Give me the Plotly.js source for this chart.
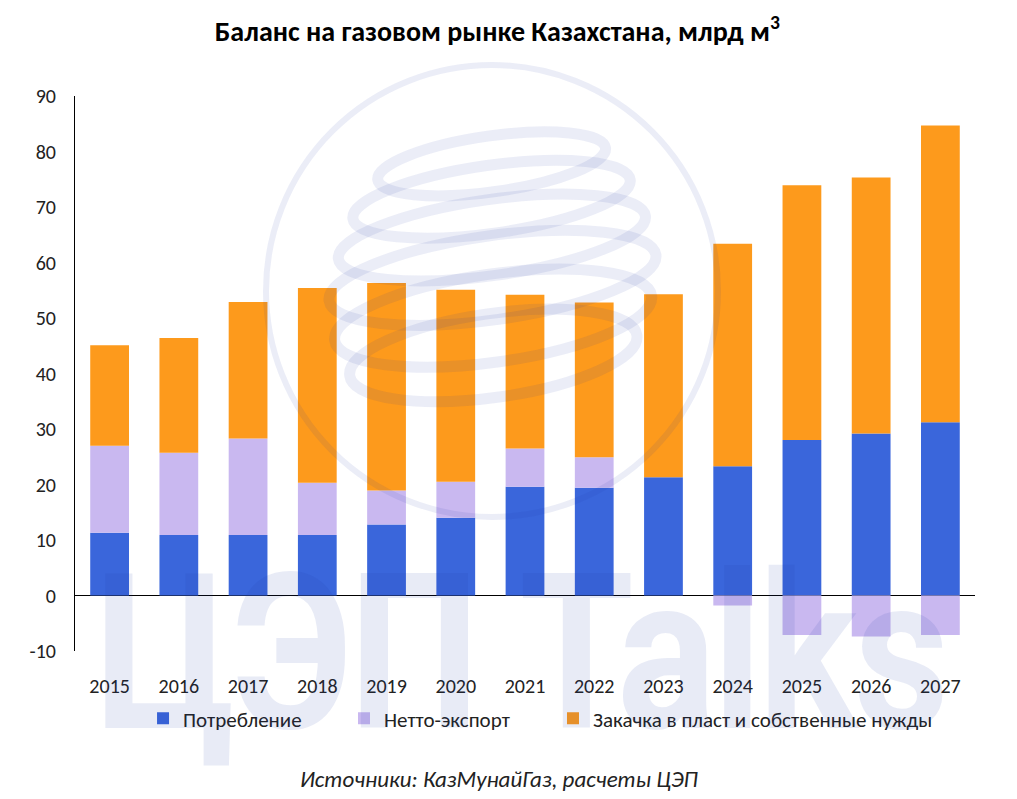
<!DOCTYPE html>
<html>
<head>
<meta charset="utf-8">
<script src="https://cdn.plot.ly/plotly-3.0.1.min.js"></script>
<style>
  html, body { margin: 0; padding: 0; background: #fff; }
  #wrap { position: relative; width: 1017px; height: 799px; overflow: hidden; }
  #chart { width: 1017px; height: 799px; }
  #wm { position: absolute; left: 95px; top: 545px; font-family: Roboto, "DejaVu Sans", sans-serif;
        font-weight: 700; font-size: 218px; line-height: 1; white-space: nowrap;
        color: rgba(30, 60, 170, 0.10); transform-origin: 0 0; transform: scaleX(0.85);
        pointer-events: none; letter-spacing: -4px; }
  #logo { position: absolute; left: 0; top: 0; pointer-events: none; }
</style>
</head>
<body>
<div id="wrap">
  <div id="chart"></div>
  <svg id="logo" width="1017" height="799" viewBox="0 0 1017 799">
    <g fill="none" stroke="rgba(30,60,170,0.09)">
      <circle cx="492" cy="291" r="226" stroke-width="6"/>
      <g stroke-width="11" transform="rotate(-8 490 260)">
        <ellipse cx="505" cy="165" rx="115" ry="28"/>
        <ellipse cx="500" cy="200" rx="140" ry="34"/>
        <ellipse cx="495" cy="238" rx="155" ry="38"/>
        <ellipse cx="490" cy="278" rx="165" ry="42"/>
        <ellipse cx="485" cy="318" rx="160" ry="44"/>
        <ellipse cx="480" cy="355" rx="145" ry="42"/>
      </g>
    </g>
  </svg>
  <div id="wm">ЦЭП Talks</div>
</div>
<script>
const years = ['2015','2016','2017','2018','2019','2020','2021','2022','2023','2024','2025','2026','2027'];
const consumption = [11.3, 10.9, 10.9, 10.9, 12.8, 14.0, 19.6, 19.4, 21.3, 23.3, 28.0, 29.2, 31.2];
const netExport   = [15.7, 14.8, 17.4, 9.4, 6.1, 6.5, 6.9, 5.5, 0, -1.8, -7.1, -7.4, -7.1];
const injection   = [18.1, 20.7, 24.6, 35.1, 37.4, 34.6, 27.7, 27.9, 33.0, 40.1, 45.9, 46.1, 53.5];
const yTicks = [-10, 0, 10, 20, 30, 40, 50, 60, 70, 80, 90];

const seriesNames = ['Потребление', 'Нетто-экспорт', 'Закачка в пласт и собственные нужды'];
const colors = ['#3A66DB', '#C9B8F0', '#FD9A1C'];
const legendIds = ['legend', 'legend2', 'legend3'];
const legendX = [0.0756, 0.2989, 0.5311];

const FONT = 'Carlito, Calibri, Lato, "Liberation Sans", sans-serif';
const LEGFONT = { family: FONT, size: 21, color: '#222' };

const traces = [consumption, netExport, injection].map((vals, i) => ({
  type: 'bar',
  x: years,
  y: vals,
  name: seriesNames[i],
  legend: legendIds[i],
  marker: { color: colors[i] },
  hoverinfo: 'x+y+name'
}));

const layout = {
  width: 1017,
  height: 799,
  paper_bgcolor: '#ffffff',
  plot_bgcolor: 'rgba(0,0,0,0)',
  barmode: 'relative',
  bargap: 0.44,
  margin: { l: 75, r: 42, t: 96, b: 148 },
  font: { family: FONT, size: 20, color: '#222' },
  title: {
    text: '<b>Баланс на газовом рынке Казахстана, млрд м<sup>3</sup></b>',
    x: 0.489, xref: 'container', xanchor: 'center',
    y: 0.9612, yref: 'container', yanchor: 'middle',
    font: { family: FONT, size: 28, color: '#000' }
  },
  xaxis: {
    type: 'category',
    showline: false,
    showgrid: false,
    zeroline: false,
    ticks: 'outside', ticklen: 17, tickcolor: 'rgba(0,0,0,0)',
    tickfont: { family: FONT, size: 20, color: '#222' }
  },
  yaxis: {
    range: [-10, 90],
    tickvals: yTicks,
    ticktext: yTicks.map(String),
    showgrid: false,
    showline: true, linecolor: '#000', linewidth: 1,
    zeroline: true, zerolinecolor: '#000', zerolinewidth: 1,
    ticks: 'outside', ticklen: 14, tickcolor: 'rgba(0,0,0,0)',
    tickfont: { family: FONT, size: 20, color: '#222' }
  },
  showlegend: true,
  annotations: [{
    text: '<i>Источники: КазМунайГаз, расчеты ЦЭП</i>',
    xref: 'paper', yref: 'paper',
    x: 0.472, xanchor: 'center',
    y: -0.2306, yanchor: 'middle',
    showarrow: false,
    font: { family: FONT, size: 23, color: '#222' }
  }]
};

legendIds.forEach((id, i) => {
  layout[id] = {
    orientation: 'h',
    x: legendX[i], xanchor: 'left',
    y: -0.085, yanchor: 'top',
    font: LEGFONT,
    bgcolor: 'rgba(0,0,0,0)'
  };
});

Plotly.newPlot('chart', traces, layout, { displayModeBar: false, staticPlot: true });
</script>
</body>
</html>
